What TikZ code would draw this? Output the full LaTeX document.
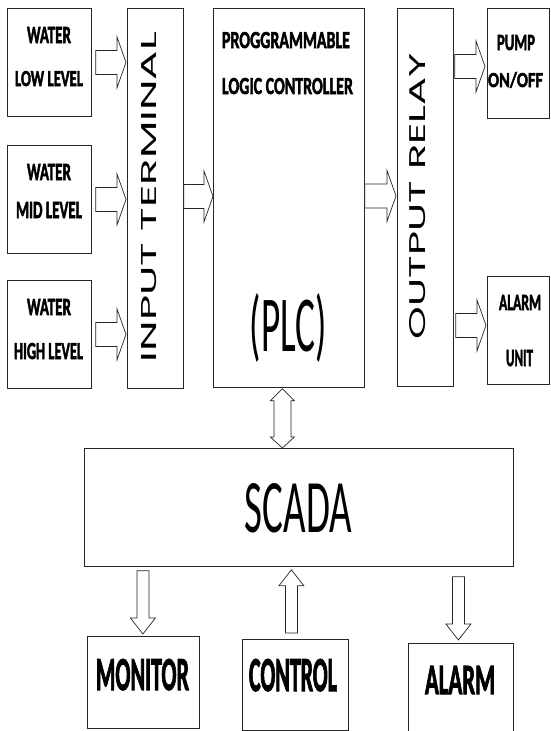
\documentclass[tikz,border=0pt]{standalone}
\usepackage{fontspec}
\setmainfont{Carlito}
\newfontfamily\heavyfont{Carlito}[FakeBold=2.5]
\newfontfamily\geofont{Poppins}
\usetikzlibrary{calc}
\newcommand\fitt[3]{\resizebox{#1pt}{#2pt}{#3}}
\newcommand\harrow[2]{\draw[barrow] let \p1=(#1), \p2=(#2) in
  (\x1,\y1+12pt) -- (\x2-9pt,\y1+12pt) -- (\x2-9pt,\y1+25.5pt) -- (\x2,\y1)
  -- (\x2-9pt,\y1-25.5pt) -- (\x2-9pt,\y1-12pt) -- (\x1,\y1-12pt) -- cycle;}
\newcommand\varrowdown[2]{\draw[barrow] let \p1=(#1), \p2=(#2) in
  (\x2-6pt,\y1) -- (\x2+6pt,\y1) -- (\x2+6pt,\y2+16pt) -- (\x2+12.5pt,\y2+16pt)
  -- (\x2,\y2) -- (\x2-12.5pt,\y2+16pt) -- (\x2-6pt,\y2+16pt) -- cycle;}
\newcommand\varrowup[2]{\draw[barrow] let \p1=(#1), \p2=(#2) in
  (\x2-6pt,\y1) -- (\x2+6pt,\y1) -- (\x2+6pt,\y2-16pt) -- (\x2+12.5pt,\y2-16pt)
  -- (\x2,\y2) -- (\x2-12.5pt,\y2-16pt) -- (\x2-6pt,\y2-16pt) -- cycle;}
\newcommand\vdarrow[2]{\draw[barrow] let \p1=(#1), \p2=(#2) in
  (\x1,\y1) -- (\x1+12pt,\y1-12pt) -- (\x1+8.5pt,\y1-12pt) -- (\x1+8.5pt,\y2+11pt)
  -- (\x1+12pt,\y2+11pt) -- (\x1,\y2) -- (\x1-12pt,\y2+11pt) -- (\x1-8.5pt,\y2+11pt)
  -- (\x1-8.5pt,\y1-12pt) -- (\x1-12pt,\y1-12pt) -- cycle;}
\begin{document}
\begin{tikzpicture}[x=1pt,y=-1pt,
  box/.style={draw=black!85, line width=0.8pt, inner sep=0pt, anchor=north west},
  txt/.style={inner sep=0pt, anchor=base, font=\heavyfont\bfseries},
  vtxt/.style={inner sep=0pt, anchor=center, rotate=90, font=\geofont},
  barrow/.style={draw=black!85, line width=0.7pt, fill=white, line join=miter}]
\useasboundingbox (0,0) rectangle (550,731);
\clip (0,0) rectangle (550,731);
% boxes
\node[box, minimum width=84pt, minimum height=108pt] (low) at (7,8) {};
\node[box, minimum width=84pt, minimum height=108pt] (mid) at (7,145) {};
\node[box, minimum width=84pt, minimum height=108pt] (high) at (7,280) {};
\node[box, minimum width=56pt, minimum height=380pt] (term) at (127,8) {};
\node[box, minimum width=151pt, minimum height=379pt] (plc) at (213,8) {};
\node[box, minimum width=56pt, minimum height=378pt] (relay) at (397,8) {};
\node[box, minimum width=61.5pt, minimum height=110pt] (pump) at (487,8) {};
\node[box, minimum width=61.5pt, minimum height=108pt] (alarmu) at (487,276) {};
\node[box, minimum width=429pt, minimum height=118pt] (scada) at (84,448) {};
\node[box, minimum width=112pt, minimum height=92pt] (monitor) at (87,636) {};
\node[box, minimum width=106pt, minimum height=91pt] (control) at (242,639) {};
\node[box, minimum width=105pt, minimum height=100pt] (alarm) at (408,643) {};
% texts
\node[txt] (tw1) at (49,43) {\fitt{44}{16}{WATER}};
\node[txt] (tl1) at (49,86) {\fitt{68}{15}{LOW LEVEL}};
\node[txt] (tw2) at (49,180) {\fitt{44}{16}{WATER}};
\node[txt] (tl2) at (49,218) {\fitt{66}{16}{MID LEVEL}};
\node[txt] (tw3) at (49,315) {\fitt{44}{16}{WATER}};
\node[txt] (tl3) at (48.5,359) {\fitt{69}{16}{HIGH LEVEL}};
\node[vtxt] (tterm) at (149.5,197) {\fitt{330}{15}{INPUT TERMINAL}};
\node[txt] (tp1) at (286,48) {\fitt{128}{16}{PROGGRAMMABLE}};
\node[txt] (tp2) at (287.5,94) {\fitt{131}{16}{LOGIC CONTROLLER}};
\node[inner sep=0pt, anchor=center] (tp3) at (288.5,327.5) {\resizebox*{77pt}{69pt}{(PLC)}};
\node[vtxt] (trelay) at (418,196) {\fitt{286}{16}{OUTPUT RELAY}};
\node[txt] (tpu1) at (516,50) {\fitt{38}{15}{PUMP}};
\node[txt] (tpu2) at (515.5,87) {\fitt{55}{15}{ON/OFF}};
\node[txt] (tau1) at (520,310) {\fitt{42}{15}{ALARM}};
\node[txt] (tau2) at (519.5,366) {\fitt{27}{16}{UNIT}};
\node[inner sep=0pt, anchor=base] (tsc) at (298.5,532) {\fitt{107}{49}{SCADA}};
\node[txt] (tmon) at (142.5,690) {\fitt{93}{31}{MONITOR}};
\node[txt] (tcon) at (293,691) {\fitt{88}{32}{CONTROL}};
\node[txt] (tal) at (460,694) {\fitt{70}{28}{ALARM}};
% arrows
\harrow{$(low.east)+(4,0)$}{$(term.west|-low.east)+(-1,0)$}
\harrow{$(mid.east)+(4,0)$}{$(term.west|-mid.east)+(-1,0)$}
\harrow{$(high.east)+(4,0)$}{$(term.west|-high.east)+(-1,0)$}
\harrow{$(term.east)+(0,-2)$}{$(plc.west)+(0,-2)$}
\harrow{$(plc.east)+(0,-2)$}{$(relay.west)+(-1,-2)$}
\harrow{$(relay.east|-pump.west)+(1,3)$}{$(pump.west)+(-2,3)$}
\harrow{$(relay.east|-alarmu.west)+(2,-5)$}{$(alarmu.west)+(-1,-5)$}
\vdarrow{$(plc.south)+(-6.5,1)$}{$(scada.north)+(-16.5,0)$}
\varrowdown{$(scada.south-|monitor.north)+(0,4)$}{$(monitor.north)+(-0.5,-2)$}
\varrowup{$(control.north)+(-4,-6)$}{$(scada.south-|control.north)+(-4,3)$}
\varrowdown{$(scada.south-|alarm.north)+(0,10)$}{$(alarm.north)+(-2.5,-3)$}
\end{tikzpicture}
\end{document}
